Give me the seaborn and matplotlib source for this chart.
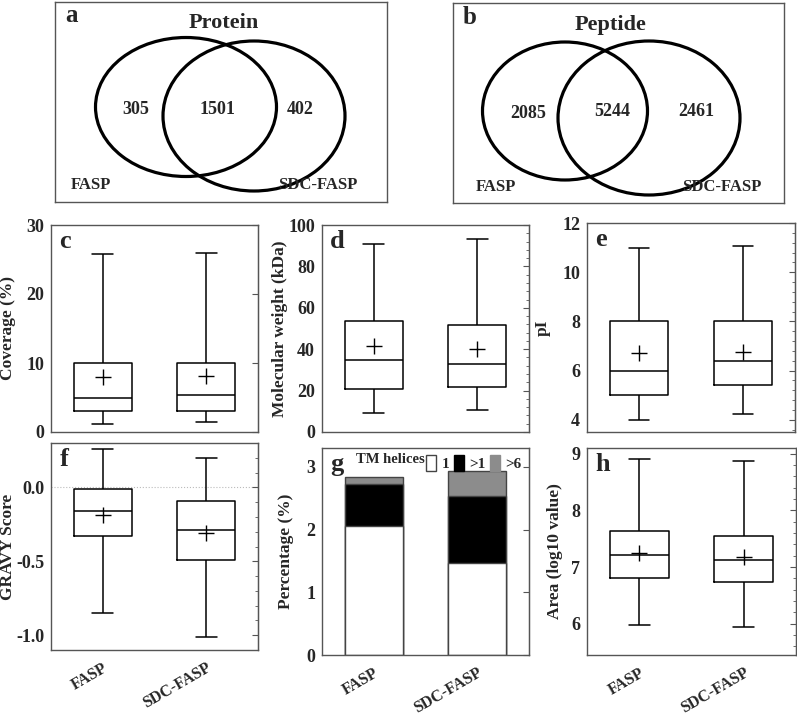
import numpy as np
import pandas as pd
import seaborn as sns
import matplotlib.pyplot as plt
from matplotlib.patches import Ellipse, Patch
from matplotlib.ticker import AutoMinorLocator, MultipleLocator

groups = ['FASP', 'SDC-FASP']

# Venn counts: only-FASP, shared, only-SDC-FASP
protein_counts = [305, 1501, 402]
peptide_counts = [2085, 5244, 2461]

# five-number summaries (min, q1, median, q3, max) + means
coverage_fasp = [1.1, 3.1, 5.0, 10.0, 25.8]
coverage_sdc = [1.4, 3.1, 5.3, 10.0, 26.0]
coverage_mean = [8.0, 8.1]

mw_fasp = [9.0, 21.0, 35.0, 53.5, 91.0]
mw_sdc = [10.6, 21.5, 33.0, 51.5, 93.0]
mw_mean = [41.5, 40.0]

pi_fasp = [4.0, 5.0, 6.0, 8.0, 11.0]
pi_sdc = [4.25, 5.4, 6.4, 8.02, 11.05]
pi_mean = [6.7, 6.75]

gravy_fasp = [-0.85, -0.33, -0.16, -0.01, 0.26]
gravy_sdc = [-1.01, -0.49, -0.29, -0.09, 0.20]
gravy_mean = [-0.19, -0.31]

area_fasp = [5.98, 6.80, 7.21, 7.63, 8.90]
area_sdc = [5.94, 6.73, 7.12, 7.55, 8.87]
area_mean = [7.25, 7.17]

# TM helices percentages (stacked)
tm_1 = [2.05, 1.47]
tm_gt1 = [0.67, 1.06]
tm_gt6 = [0.11, 0.41]

sns.set_style('white')
plt.rcParams['font.family'] = ['Liberation Serif', 'DejaVu Serif']
plt.rcParams['font.weight'] = 'bold'
plt.rcParams['axes.labelweight'] = 'bold'

W, H = 797, 720
fig = plt.figure(figsize=(W / 100, H / 100), dpi=100)


def px_axes(x0, y0, x1, y1):
    # axes from pixel box (top-left origin)
    return fig.add_axes([x0 / W, (H - y1) / H, (x1 - x0) / W, (y1 - y0) / H])


def style_spines(ax):
    for s in ax.spines.values():
        s.set_color('#555555')
        s.set_linewidth(1.0)


def venn_panel(box, counts, title, letter, ells, num_pos, title_pos, lab_pos):
    x0, y0, x1, y1 = box
    ax = px_axes(x0, y0, x1, y1)
    ax.set_xlim(0, x1 - x0)
    ax.set_ylim(y1 - y0, 0)
    ax.set_xticks([])
    ax.set_yticks([])
    style_spines(ax)
    for cx, cy, w, h in ells:
        ax.add_patch(Ellipse((cx, cy), w, h, fill=False, lw=2.3, ec='black'))
    for (tx, ty), c in zip(num_pos, counts):
        ax.text(tx, ty, str(c), ha='center', va='center', fontsize=13, fontweight='bold')
    ax.text(title_pos[0], title_pos[1], title, ha='center', va='center', fontsize=16, fontweight='bold')
    ax.text(10, 14, letter, ha='left', va='center', fontsize=18, fontweight='bold')
    ax.text(lab_pos[0][0], lab_pos[0][1], groups[0], ha='center', va='center', fontsize=12, fontweight='bold')
    ax.text(lab_pos[1][0], lab_pos[1][1], groups[1], ha='center', va='center', fontsize=12, fontweight='bold')


venn_panel((55, 2, 387, 202), protein_counts, 'Protein', 'a',
           [(131, 105, 181, 139), (199, 114, 182, 150)],
           [(81, 108), (162, 108), (245, 107)], (169, 21),
           [(36, 183), (263, 183)])
venn_panel((453, 3, 784, 203), peptide_counts, 'Peptide', 'b',
           [(112, 108, 165, 138), (196, 115, 182, 154)],
           [(75, 110), (159, 109), (243, 109)], (158, 22),
           [(43, 184), (269, 184)])


def finish_axes(ax, box, ylabel, label_px, letter, ylim, major, minor_n, show_x):
    style_spines(ax)
    ax.set_ylim(*ylim)
    ax.set_xlim(-0.5, 1.5)
    ax.yaxis.set_major_locator(MultipleLocator(major))
    ax.set_ylabel(ylabel, fontsize=12.5, fontweight='bold')
    ax.yaxis.set_label_coords((label_px - box[0]) / (box[2] - box[0]), 0.5)
    ax.set_xlabel('')
    ax.tick_params(axis='y', direction='out', length=3, width=1, labelsize=13, color='#555555', pad=2)
    ax.tick_params(axis='x', length=0)
    for t in ax.get_yticklabels():
        t.set_fontweight('bold')
    sec = ax.secondary_yaxis('right')
    sec.yaxis.set_major_locator(MultipleLocator(major))
    if minor_n:
        sec.yaxis.set_minor_locator(AutoMinorLocator(minor_n))
    sec.tick_params(which='major', direction='in', length=4, color='#555555', labelright=False)
    sec.tick_params(which='minor', direction='in', length=2.5, color='#555555')
    sec.spines['right'].set_color('#555555')
    ax.set_xticks(range(len(groups)))
    if show_x:
        ax.set_xticklabels(groups, rotation=30, ha='right', rotation_mode='anchor', fontsize=11.5, fontweight='bold')
        ax.tick_params(axis='x', pad=7)
    else:
        ax.set_xticklabels([])
    ax.text(0.04, 0.975, letter, transform=ax.transAxes, fontsize=19, fontweight='bold', va='top', ha='left')


def box_panel(box, five_a, five_b, means, ylabel, label_px, letter, ylim, major, minor_n, show_x):
    ax = px_axes(*box)
    df = pd.DataFrame({'method': np.repeat(groups, 5), 'value': five_a + five_b})
    sns.boxplot(data=df, x='method', y='value', ax=ax, whis=(0, 100), width=0.56,
                fill=False, color='black', linewidth=1.1, showfliers=False)
    # narrower whisker caps
    for ln in ax.lines:
        xd, yd = np.asarray(ln.get_xdata(), float), np.asarray(ln.get_ydata(), float)
        if len(xd) == 2 and yd[0] == yd[1] and abs(xd[1] - xd[0]) < 0.5:
            c = xd.mean()
            ln.set_xdata([c - 0.1, c + 0.1])
    ax.scatter(range(len(groups)), means, marker='+', s=120, color='black', linewidths=1.0, zorder=5)
    finish_axes(ax, box, ylabel, label_px, letter, ylim, major, minor_n, show_x)
    return ax


box_panel((51, 225, 258, 432), coverage_fasp, coverage_sdc, coverage_mean, 'Coverage (%)', 16, 'c', (0, 30), 10, 0, False)
box_panel((322, 225, 529, 432), mw_fasp, mw_sdc, mw_mean, 'Molecular weight (kDa)', 288, 'd', (0, 100), 20, 5, False)
box_panel((587, 223, 795, 432), pi_fasp, pi_sdc, pi_mean, 'pI', 551, 'e', (3.5, 12), 2, 5, False)
axf = box_panel((51, 443, 258, 650), gravy_fasp, gravy_sdc, gravy_mean, 'GRAVY Score', 16, 'f', (-1.1, 0.3), 0.5, 5, True)
axf.axhline(0, color='#bbbbbb', lw=0.8, ls=':', zorder=0)
axf.yaxis.set_major_formatter(plt.FuncFormatter(lambda v, p: f'{v:.1f}'))
box_panel((587, 448, 796, 655), area_fasp, area_sdc, area_mean, 'Area (log10 value)', 563, 'h', (5.45, 9.1), 1, 5, True)

# stacked bars
gbox = (322, 448, 529, 655)
axg = px_axes(*gbox)
one = np.array(tm_1)
one_gt1 = one + np.array(tm_gt1)
total = one_gt1 + np.array(tm_gt6)
bar_kw = dict(width=0.56, edgecolor='#444444', linewidth=1.0, saturation=1, errorbar=None, ax=axg)
sns.barplot(x=groups, y=total, color='#8c8c8c', **bar_kw)
sns.barplot(x=groups, y=one_gt1, color='black', **bar_kw)
sns.barplot(x=groups, y=one, color='white', **bar_kw)
finish_axes(axg, gbox, 'Percentage (%)', 294, 'g', (0, 3.3), 1, 0, True)
handles = [Patch(facecolor='white', edgecolor='#444444'), Patch(facecolor='black', edgecolor='black'),
           Patch(facecolor='#8c8c8c', edgecolor='#8c8c8c')]
axg.legend(handles, ['1', '>1', '>6'], ncol=3, loc='upper right', bbox_to_anchor=(1.015, 1.02),
           frameon=False, handlelength=0.65, handleheight=1.3, handletextpad=0.35, columnspacing=0.3,
           prop={'size': 11, 'weight': 'bold'}, borderaxespad=0.3)
axg.text(0.495, 0.945, 'TM helices', transform=axg.transAxes, fontsize=10.5, fontweight='bold',
         va='center', ha='right')

fig.savefig('out.png', dpi=100)
